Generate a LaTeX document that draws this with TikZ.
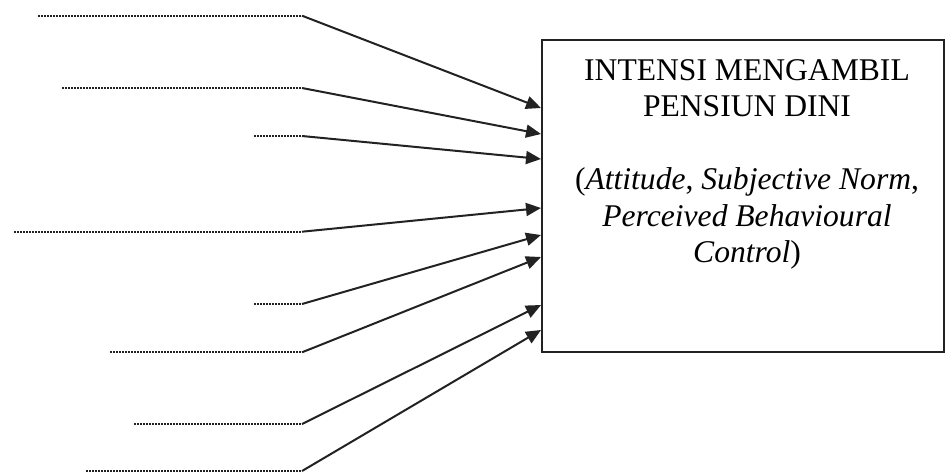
\documentclass[tikz,border=0pt]{standalone}
\usepackage{fontspec}
\setmainfont{Liberation Serif}
\usepackage{xcolor}
\usetikzlibrary{arrows.meta,positioning}
\definecolor{garis}{RGB}{34, 34, 34}

\begin{document}
\begin{tikzpicture}[
    x=0.5pt, y=-0.5pt,
    kotak/.style={draw=garis, line width=1pt, minimum width=201pt, minimum height=156pt, inner sep=0pt},
    titik/.style={draw=garis, line width=1pt, dash pattern=on 0.9pt off 0.6pt},
    panah/.style={draw=garis, line width=1pt, -{Triangle[length=7.5pt, width=6.5pt]}}
]
    \useasboundingbox (0,0) rectangle (945,472);

    % Box
    \node[kotak] (intensi) at (743,196) {};
    \node[anchor=north, inner sep=0pt, align=center, font=\fontsize{15.8}{18.25}\selectfont]
        (isi) at (747,59) {INTENSI MENGAMBIL\\ PENSIUN DINI\\[18.25pt]
        (\textit{Attitude}, \textit{Subjective Norm},\\ \textit{Perceived Behavioural}\\ \textit{Control})};

    % Dotted inputs
    \coordinate (a1) at (38,15.7);   \coordinate (j1) at (302,15.7);
    \coordinate (a2) at (62,88);     \coordinate (j2) at (302,88);
    \coordinate (a3) at (254,136);   \coordinate (j3) at (302,136);
    \coordinate (a4) at (14,231.7);  \coordinate (j4) at (302,231.7);
    \coordinate (a5) at (254,304);   \coordinate (j5) at (302,304);
    \coordinate (a6) at (110,352.3); \coordinate (j6) at (302,352.3);
    \coordinate (a7) at (134,424);   \coordinate (j7) at (302,424);
    \coordinate (a8) at (86,471);    \coordinate (j8) at (302,471);

    % Arrow heads on the box
    \coordinate (t1) at (intensi.north west |- 0,108);
    \coordinate (t2) at (intensi.north west |- 0,134);
    \coordinate (t3) at (intensi.north west |- 0,159);
    \coordinate (t4) at (intensi.north west |- 0,208);
    \coordinate (t5) at (intensi.north west |- 0,235);
    \coordinate (t6) at (intensi.north west |- 0,257);
    \coordinate (t7) at (intensi.north west |- 0,305);
    \coordinate (t8) at (intensi.north west |- 0,330);

    \draw[titik] (a1) -- (j1);  \draw[panah] (j1) -- (t1);
    \draw[titik] (a2) -- (j2);  \draw[panah] (j2) -- (t2);
    \draw[titik] (a3) -- (j3);  \draw[panah] (j3) -- (t3);
    \draw[titik] (a4) -- (j4);  \draw[panah] (j4) -- (t4);
    \draw[titik] (a5) -- (j5);  \draw[panah] (j5) -- (t5);
    \draw[titik] (a6) -- (j6);  \draw[panah] (j6) -- (t6);
    \draw[titik] (a7) -- (j7);  \draw[panah] (j7) -- (t7);
    \draw[titik] (a8) -- (j8);  \draw[panah] (j8) -- (t8);
\end{tikzpicture}
\end{document}
